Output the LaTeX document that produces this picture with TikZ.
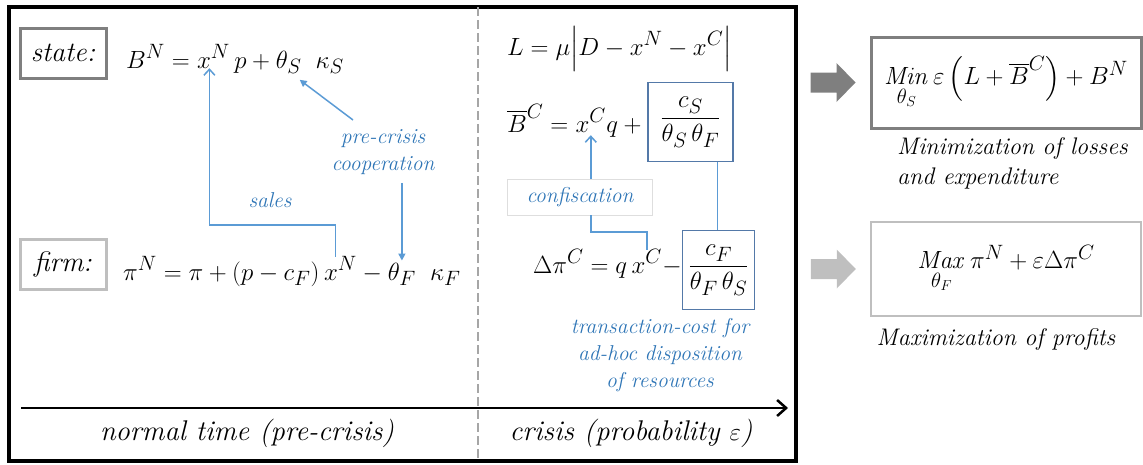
\documentclass[tikz,border=0pt]{standalone}
\usepackage{amsmath}
\usepackage{tikz}
\usetikzlibrary{arrows.meta,calc,positioning}
\definecolor{lnblue}{RGB}{91,155,213}
\definecolor{txblue}{RGB}{46,117,182}
\definecolor{bxblue}{RGB}{84,121,168}
\definecolor{dkgrey}{RGB}{127,127,127}
\definecolor{ltgrey}{RGB}{191,191,191}
\definecolor{cfgrey}{RGB}{222,222,222}

\newcommand{\eqfont}{\fontsize{28}{32}\selectfont}
\newcommand{\lblfont}{\fontsize{21.5}{27}\selectfont\itshape}
\newcommand{\capfont}{\fontsize{24}{30}\selectfont\itshape}
\newcommand{\timefont}{\fontsize{28.5}{34}\selectfont\itshape}

\begin{document}
\begin{tikzpicture}[x=1pt, y=-1pt,
  eq/.style={inner sep=0pt, anchor=base west, font=\eqfont},
  role/.style={draw, line width=3pt, minimum width=86pt, minimum height=50pt, inner sep=0pt, font=\fontsize{28}{32}\selectfont\itshape},
  fracbox/.style={draw=bxblue, line width=1.5pt, inner sep=0pt, minimum height=79pt, font=\eqfont},
  lbl/.style={text=txblue, font=\lblfont, align=center, inner sep=0pt},
  link/.style={lnblue, line width=1.5pt}]

\useasboundingbox (0,0) rectangle (1143,464);

% ---- frame, phase split and time axis ----
\draw[line width=3.5pt] (9,7) rectangle (796,461);
\draw[gray!70, line width=1.2pt, dash pattern=on 9pt off 4pt] (478,7) -- (478,461);
\coordinate (t0) at (21,408);
\coordinate (t1) at (788,408);
\draw[line width=2.5pt, -{Straight Barb[length=9pt,width=16pt,line width=2.5pt]}] (t0) -- (t1);
\node[font=\timefont, anchor=base] (normal) at (247,440) {normal time (pre-crisis)};
\node[font=\timefont, anchor=base] (crisis) at (631,440) {crisis (probability $\varepsilon$)};

% ---- state row ----
\node[role, draw=dkgrey] (state) at (63,53) {state:};
\node[eq] (sA) at (126,68) {$B^N = {}$};
\node[eq] (sX) at (sA.base east) {$x^N$};
\node[eq] (sB) at (sX.base east) {$\,p + {}$};
\node[eq] (sT) at (sB.base east) {$\theta_S$};
\node[eq] (sK) at (sT.base east) {$\;\;\kappa_S$};

% ---- firm row ----
\node[role, draw=ltgrey] (firm) at (63,264) {firm:};
\node[eq] (fA) at (123,280) {$\pi^N = \pi + (p - c_F)\,$};
\node[eq] (fX) at (fA.base east) {$x^N$};
\node[eq] (fB) at (fX.base east) {${} - {}$};
\node[eq] (fT) at (fB.base east) {$\theta_F$};
\node[eq] (fK) at (fT.base east) {$\;\;\kappa_F$};

% sales: firm output goes to the state
\node[lbl, anchor=base] (sales) at (270,207) {sales};
\coordinate (salesy) at (0,225);
\draw[link, -{Straight Barb[length=6pt,width=11pt]}]
  ([xshift=-5pt]fX.north) -- ([xshift=-5pt]fX.north |- salesy) -| ([xshift=-4pt]sX.south);

% pre-crisis cooperation
\node[lbl] (coop) at (383,152) {pre-crisis\\cooperation};
\draw[link, -{Triangle[length=7pt,width=7pt]}] (353,120) -- ([shift={(-2pt,-6pt)}]sT.south east);
\draw[link, -{Triangle[length=7pt,width=7pt]}] ([yshift=-8pt]fT.north |- coop.south) -- ([yshift=2pt]fT.north);

% ---- crisis side ----
\node[eq] (loss) at (507,55) {$L = \mu\Big|D - x^N - x^C\Big|$};

\node[eq] (cA) at (507,132) {$\overline{B}^C = {}$};
\node[eq] (cX) at (cA.base east) {$x^C$};
\node[eq] (cB) at (cX.base east) {$q + {}$};
\node[fracbox, anchor=west, minimum width=85pt] (cS) at ([yshift=10pt]cB.base east) {$\dfrac{c_S}{\theta_S\,\theta_F}$};

\node[eq] (dA) at (533,273) {$\Delta\pi^C = q\,$};
\node[eq] (dX) at (dA.base east) {$x^C$};
\node[eq] (dB) at (dX.base east) {${} -$};
\node[fracbox, anchor=west, minimum width=72pt] (cF) at ([yshift=3pt]dB.base east) {$\dfrac{c_F}{\theta_F\,\theta_S}$};

% confiscation
\node[lbl, draw=cfgrey, line width=0.8pt, minimum width=145pt, minimum height=36pt] (conf) at (580,197) {confiscation};
\draw[link, -{Straight Barb[length=6pt,width=11pt]}] (conf.north -| cX) -- ([yshift=-3pt]cX.south);
\coordinate (confy) at (0,232);
\draw[link] (conf.south -| cX) |- (dX.north |- confy) -- (dX.north);

% transaction cost link
\coordinate (cSout) at ([xshift=-16pt]cS.south east);
\draw[link] (cSout) -- (cSout |- cF.north);
\node[lbl, anchor=north] (tcost) at (660,318) {transaction-cost for\\ad-hoc disposition\\of resources};

% ---- objectives ----
\node[draw=dkgrey, line width=3pt, minimum width=270pt, minimum height=91pt, inner sep=0pt, font=\eqfont] (minbox) at (1006,82.5)
  {$\mathop{\mathit{Min}}\limits_{\theta_S} \varepsilon\left(L + \overline{B}^C\right) + B^N$};
\node[font=\capfont, align=left, anchor=north west, inner sep=0pt] (mincap) at (897,137) {Minimization of losses\\and expenditure};

\node[draw=ltgrey, line width=2.5pt, minimum width=270pt, minimum height=94pt, inner sep=0pt, font=\eqfont] (maxbox) at (1006,269)
  {$\mathop{\mathit{Max}}\limits_{\theta_F} \pi^N + \varepsilon\Delta\pi^C$};
\node[font=\capfont, anchor=base] (maxcap) at (996,345) {Maximization of profits};

\fill[dkgrey] ($(minbox.west)+(-14,0)$) -- ++(-19,-19.5) -- ++(0,9.5) -- ++(-26,0) -- ++(0,20) -- ++(26,0) -- ++(0,9.5) -- cycle;
\fill[ltgrey] ($(maxbox.west)+(-14,0)$) -- ++(-19,-19.5) -- ++(0,9.5) -- ++(-26,0) -- ++(0,20) -- ++(26,0) -- ++(0,9.5) -- cycle;

\end{tikzpicture}
\end{document}
